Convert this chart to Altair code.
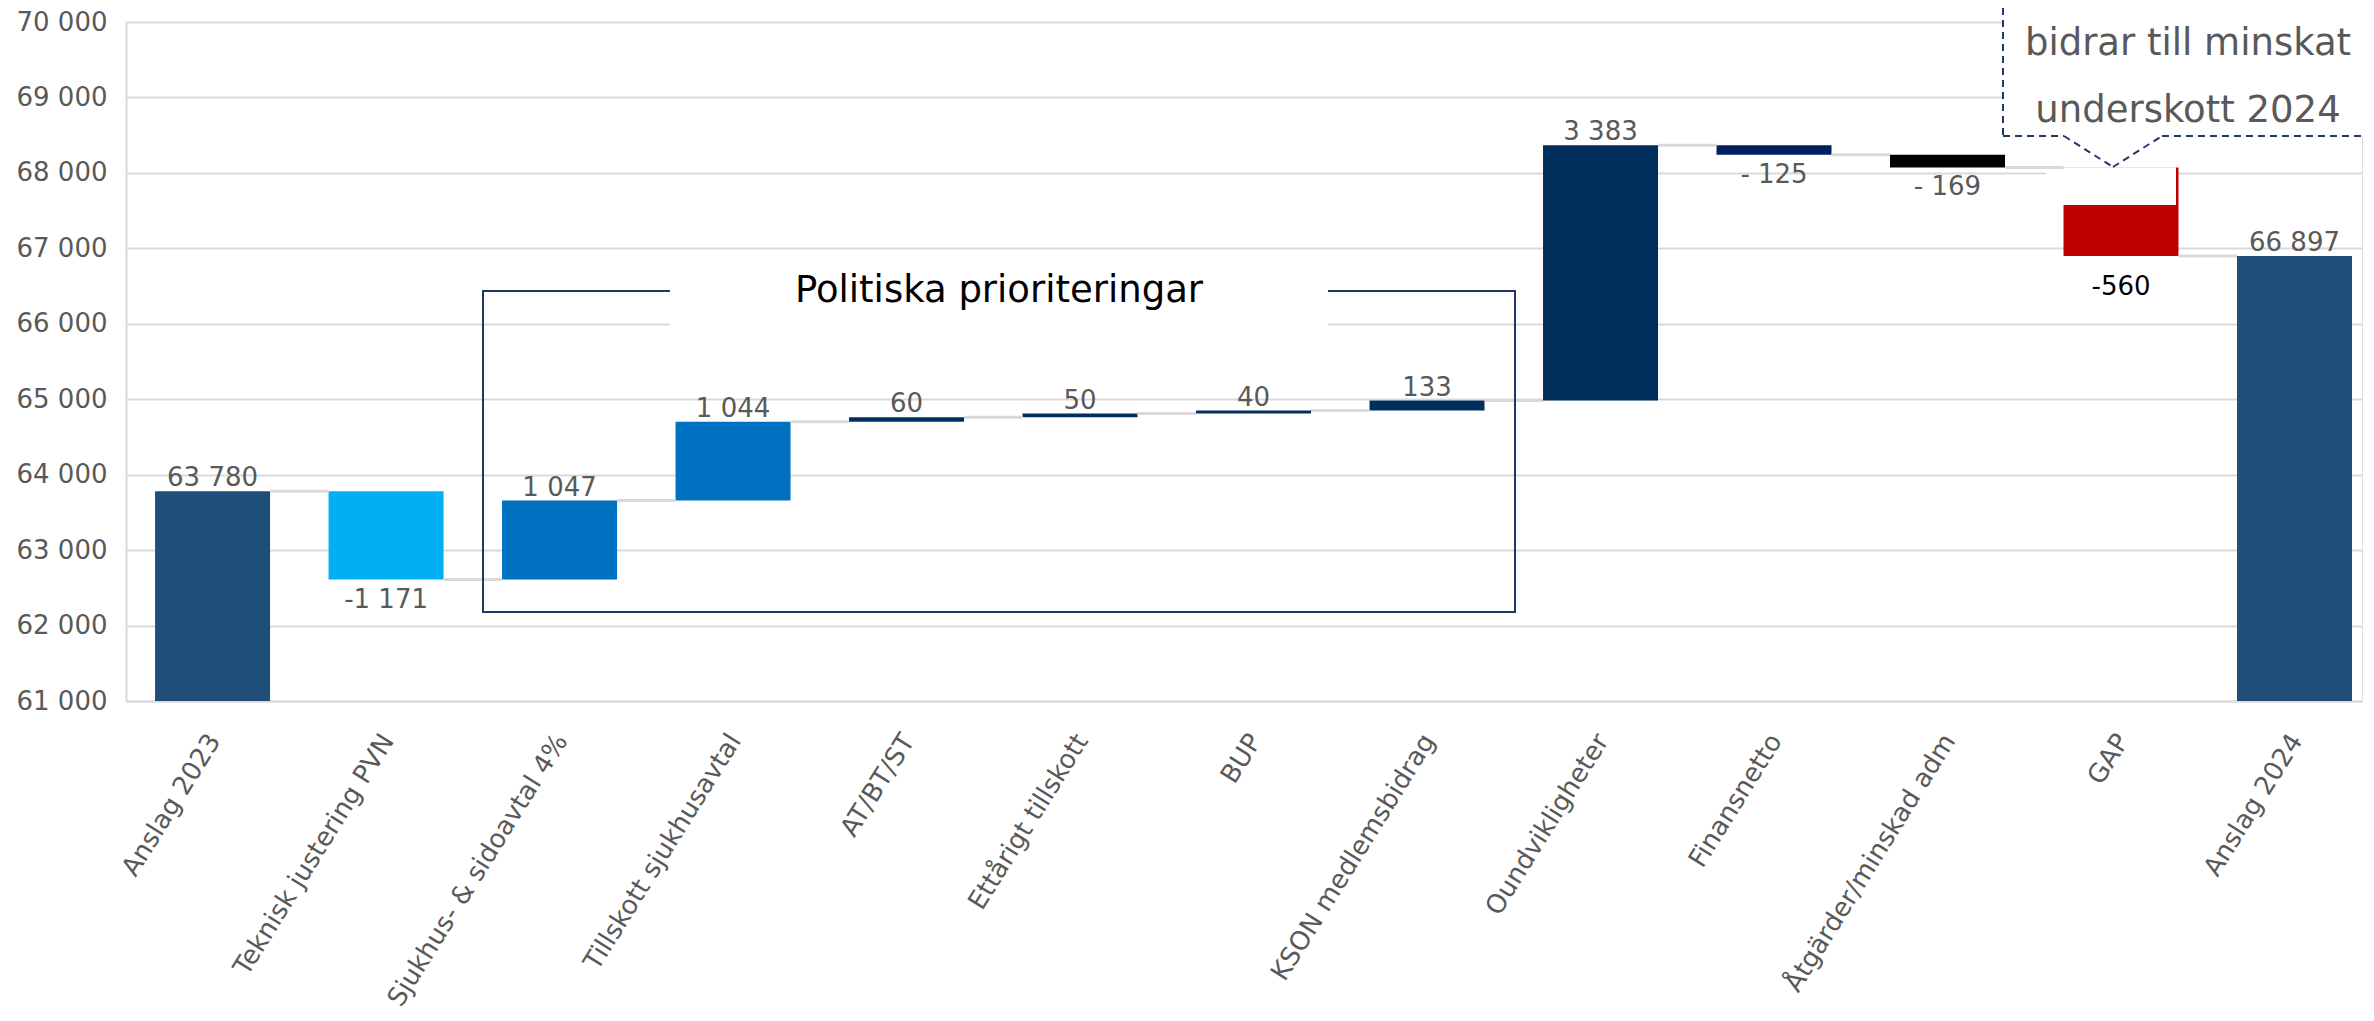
import altair as alt
import pandas as pd

# ---------------- data ----------------
categories = ["Anslag 2023", "Teknisk justering PVN", "Sjukhus- & sidoavtal 4%",
              "Tillskott sjukhusavtal", "AT/BT/ST", "Ettårigt tillskott", "BUP",
              "KSON medlemsbidrag", "Oundvikligheter", "Finansnetto",
              "Åtgärder/minskad adm", "GAP", "Anslag 2024"]
kinds = ["total", "delta", "delta", "delta", "delta", "delta", "delta",
         "delta", "delta", "delta", "delta", "gap", "total"]
values = [63780, -1171, 1047, 1044, 60, 50, 40, 133, 3383, -125, -169, -1175, 66897]
labels = ["63 780", "-1 171", "1 047", "1 044", "60", "50", "40", "133",
          "3 383", "- 125", "- 169", "-560", "66 897"]
colors = ["#1F4E79", "#00B0F0", "#0070C0", "#0070C0", "#002E5D", "#002E5D",
          "#002E5D", "#002E5D", "#002E5D", "#002060", "#000000", "#C00000", "#1F4E79"]
gap_visible_top = 67573          # upper end of the visible red part of GAP
y_ticks = [61000, 62000, 63000, 64000, 65000, 66000, 67000, 68000, 69000, 70000]

Y_MIN, Y_MAX = 61000, 70000
W, H = 2236, 679
FONT = "DejaVu Sans"
GREY_TXT = "#595959"
GRID = "#D9D9D9"
NAVY = "#1F3864"

# ------------- waterfall geometry -------------
rows = []
running = None
for c, k, v, l, col in zip(categories, kinds, values, labels, colors):
    if k == "total":
        s, e = Y_MIN, v
    else:
        s, e = running, running + v
    running = e
    pos = "above" if (k == "total" or v > 0) else ("gap" if k == "gap" else "below")
    rows.append(dict(cat=c, start=s, end=e, label=l, color=col, pos=pos,
                     ly=max(s, e) if pos == "above" else min(s, e)))
bars = pd.DataFrame(rows)

conn = pd.DataFrame([dict(cat=categories[i], nxt=categories[i + 1], level=rows[i]["end"])
                     for i in range(len(categories) - 1)])

gap_row = bars[bars.cat == "GAP"].iloc[0]
mask_df = pd.DataFrame([dict(top=gap_row["start"] + 3, bottom=gap_visible_top)])

# ------------- scales / axes -------------
xscale = alt.Scale(domain=categories, paddingInner=0.3372, paddingOuter=0.1126, align=0.744)
xaxis = alt.Axis(title="", labelAngle=-58, labelAlign="right", labelBaseline="middle",
                 labelPadding=35, labelOffset=2, ticks=False, tickSize=0,
                 domainColor=GRID, domainWidth=2, labelFontSize=26, labelColor=GREY_TXT,
                 labelFont=FONT, labelLimit=1000, grid=False, labelOverlap=False)
yscale = alt.Scale(domain=[Y_MIN, Y_MAX], nice=False, zero=False)
yaxis = alt.Axis(title="", values=y_ticks, ticks=False, tickSize=0, labelPadding=19,
                 labelFontSize=26, labelColor=GREY_TXT, labelFont=FONT,
                 labelExpr="replace(format(datum.value, ','), ',', ' ')",
                 domainColor=GRID, domainWidth=2, gridColor=GRID, gridWidth=2,
                 labelOverlap=False)

X = alt.X("cat:N", scale=xscale, axis=xaxis, sort=categories)
Y = alt.Y("start:Q", scale=yscale, axis=yaxis)

bar_layer = alt.Chart(bars).mark_bar().encode(
    x=X, y=Y, y2="end:Q", color=alt.Color("color:N", scale=None))

mask_layer = alt.Chart(mask_df).mark_rect(color="white").encode(
    x=alt.value(1920), x2=alt.value(2050),
    y=alt.Y("top:Q", scale=yscale, axis=yaxis), y2="bottom:Q")

conn_layer = alt.Chart(conn).mark_rule(color=GRID, strokeWidth=3).encode(
    x=alt.X("cat:N", scale=xscale, axis=xaxis, sort=categories, bandPosition=1),
    x2=alt.X2("nxt:N", bandPosition=0),
    y=alt.Y("level:Q", scale=yscale, axis=yaxis))

def label_layer(pos, dy, color):
    return alt.Chart(bars[bars.pos == pos]).mark_text(
        font=FONT, fontSize=26, color=color, baseline="alphabetic", align="center", dy=dy
    ).encode(x=X, y=alt.Y("ly:Q", scale=yscale, axis=yaxis), text="label:N")

lab_above = label_layer("above", -5, GREY_TXT)
lab_below = label_layer("below", 28, GREY_TXT)
lab_gap = label_layer("gap", 39, "#000000")

one = pd.DataFrame({"a": [0]})

# Politiska prioriteringar box
pol_box = alt.Chart(one).mark_rect(fillOpacity=0, stroke=NAVY, strokeWidth=2).encode(
    x=alt.value(357), x2=alt.value(1389), y=alt.value(269), y2=alt.value(590))
pol_bg = alt.Chart(one).mark_rect(color="white").encode(
    x=alt.value(544), x2=alt.value(1202), y=alt.value(240), y2=alt.value(312))
pol_txt = alt.Chart(one).mark_text(
    text="Politiska prioriteringar", font=FONT, fontSize=37, color="#000000",
    align="center", baseline="alphabetic").encode(x=alt.value(873), y=alt.value(280))

# callout
call_bg = alt.Chart(one).mark_rect(color="white").encode(
    x=alt.value(1877), x2=alt.value(2245), y=alt.value(-14), y2=alt.value(114))
call_txt1 = alt.Chart(one).mark_text(
    text="bidrar till minskat", font=FONT, fontSize=37, color=GREY_TXT,
    align="center", baseline="alphabetic").encode(x=alt.value(2062), y=alt.value(33))
call_txt2 = alt.Chart(one).mark_text(
    text="underskott 2024", font=FONT, fontSize=37, color=GREY_TXT,
    align="center", baseline="alphabetic").encode(x=alt.value(2062), y=alt.value(100))

segments = [(1877, -14, 1877, 114), (1877, 114, 1938, 114), (1938, 114, 1987, 145),
            (1987, 145, 2036, 114), (2036, 114, 2245, 114)]
dash_layers = [
    alt.Chart(one).mark_rule(color=NAVY, strokeWidth=2, strokeDash=[7, 5]).encode(
        x=alt.value(a), y=alt.value(b), x2=alt.value(c), y2=alt.value(d))
    for a, b, c, d in segments
]

chart = alt.layer(
    bar_layer, mask_layer, conn_layer, pol_box, pol_bg, pol_txt,
    lab_above, lab_below, lab_gap, call_bg, call_txt1, call_txt2, *dash_layers
).properties(
    width=W, height=H,
    autosize=alt.AutoSizeParams(type="none"),
    padding={"left": 118, "top": 14, "right": 2, "bottom": 318},
).configure_view(strokeWidth=0).configure(font=FONT)

chart.save("out.html", embed_options={"renderer": "svg", "actions": False})
